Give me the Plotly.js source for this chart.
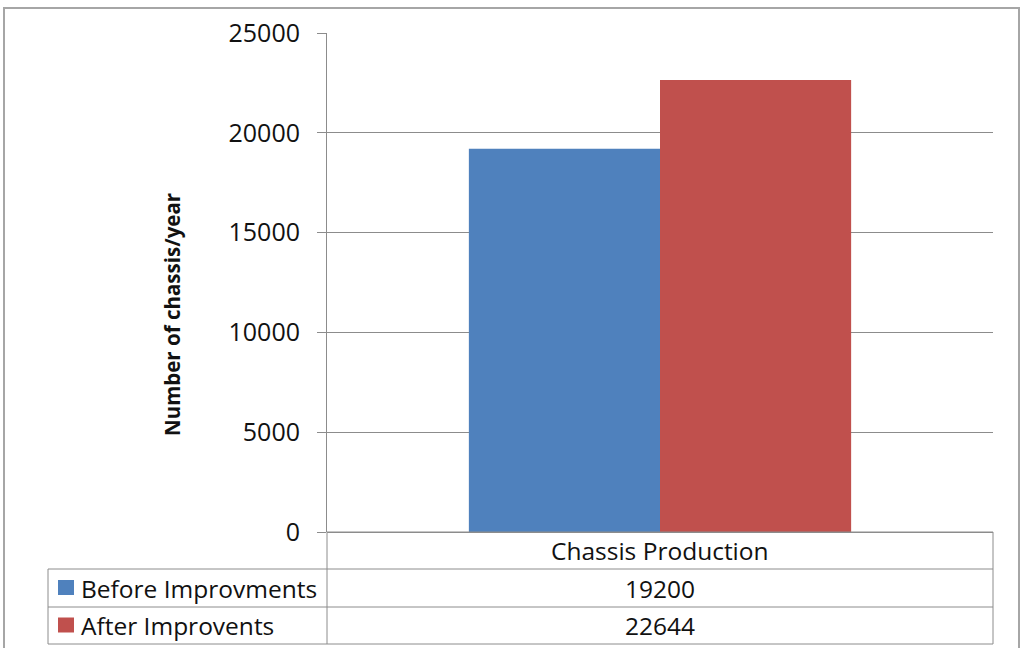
<!DOCTYPE html>
<html>
<head>
<meta charset="utf-8">
<script src="https://cdn.plot.ly/plotly-3.0.1.min.js"></script>
<style>html,body{margin:0;padding:0;background:#fff;}#chart{width:1020px;height:648px;}</style>
</head>
<body>
<div id="chart"></div>
<script>
const categories = ["Chassis Production"];
const seriesNames = ["Before Improvments", "After Improvents"];
const beforeValues = [19200];
const afterValues = [22644];
const seriesColors = ["#4F81BD", "#C0504D"];
const yTitle = "Number of chassis/year";

const W = 1020, H = 648;
const L = 327, R = 27, T = 33, B = 116;
const pw = W - L - R, ph = H - T - B;
const px = v => (v - L) / pw;
const py = v => (H - B - v) / ph;

const FONT = "'Open Sans', Lato, sans-serif";
const TXT = "#111111";
const GRID = "#8c8c8c";

const traces = [
  {type: "bar", name: seriesNames[0], x: categories, y: beforeValues, marker: {color: seriesColors[0]}, hoverinfo: "none"},
  {type: "bar", name: seriesNames[1], x: categories, y: afterValues, marker: {color: seriesColors[1]}, hoverinfo: "none"}
];

const shapes = [];
const line = (x0, y0, x1, y1, color, w) => shapes.push({type: "line", xref: "paper", yref: "paper",
  x0: px(x0), y0: py(y0), x1: px(x1), y1: py(y1), line: {color: color || GRID, width: w || 1}});

// outer chart border
shapes.push({type: "rect", xref: "paper", yref: "paper", x0: px(4), y0: py(8), x1: px(1019), y1: py(700),
  line: {color: "#a6a6a6", width: 2}, fillcolor: "rgba(0,0,0,0)"});

// data table grid
const rowTops = [532, 569, 607, 644];
const colL = 48, colM = 327, colR = 993;
line(colM, 532, colR, 532);
line(colL, rowTops[1], colR, rowTops[1]);
line(colL, rowTops[2], colR, rowTops[2]);
line(colL, rowTops[3], colR, rowTops[3]);
line(colM, 532, colM, rowTops[3]);
line(colR, 532, colR, rowTops[3]);
line(colL, rowTops[1], colL, rowTops[3]);

const allValues = [beforeValues, afterValues];
const annotations = [];
const TABLE_SIZE = 24.5;
const rowMid = i => (rowTops[i] + rowTops[i + 1]) / 2;
annotations.push({xref: "paper", yref: "paper", x: px((colM + colR) / 2), y: py(rowMid(0)),
  text: categories[0], showarrow: false, xanchor: "center", yanchor: "middle", font: {family: FONT, size: TABLE_SIZE, color: TXT}});
seriesNames.forEach((nm, i) => {
  const mid = rowMid(i + 1);
  shapes.push({type: "rect", xref: "paper", yref: "paper", x0: px(58), x1: px(74), y0: py(mid - 8), y1: py(mid + 7),
    line: {width: 0}, fillcolor: seriesColors[i]});
  annotations.push({xref: "paper", yref: "paper", x: px(79), y: py(mid), text: nm, showarrow: false,
    xanchor: "left", yanchor: "middle", font: {family: FONT, size: TABLE_SIZE, color: TXT}});
  annotations.push({xref: "paper", yref: "paper", x: px((colM + colR) / 2), y: py(mid), text: String(allValues[i][0]),
    showarrow: false, xanchor: "center", yanchor: "middle", font: {family: FONT, size: TABLE_SIZE, color: TXT}});
});

// y-axis title (placed as in the reference, below the plot-area centre)
annotations.push({xref: "paper", yref: "paper", x: px(172), y: py(315), text: "<b>" + yTitle + "</b>",
  textangle: -90, showarrow: false, xanchor: "center", yanchor: "middle", font: {family: FONT, size: 20.5, color: TXT}});

const layout = {
  width: W, height: H,
  margin: {l: L, r: R, t: T, b: B, pad: 0},
  paper_bgcolor: "#fff", plot_bgcolor: "#fff",
  showlegend: false,
  barmode: "group", bargap: 0.426, bargroupgap: 0,
  font: {family: FONT, color: TXT},
  xaxis: {showticklabels: false, showgrid: false, zeroline: false, showline: false, ticks: "", fixedrange: true},
  yaxis: {
    range: [0, 25000], dtick: 5000, tick0: 0, tickformat: "d",
    showgrid: true, gridcolor: GRID, gridwidth: 1,
    zeroline: true, zerolinecolor: GRID, zerolinewidth: 1,
    showline: true, linecolor: GRID, linewidth: 1,
    ticks: "outside", ticklen: 9, tickcolor: GRID, tickwidth: 1,
    ticklabelstandoff: 12,
    tickfont: {family: FONT, size: 25, color: TXT},
    automargin: false, fixedrange: true
  },
  shapes: shapes,
  annotations: annotations
};

Plotly.newPlot("chart", traces, layout, {staticPlot: true, displayModeBar: false});
</script>
</body>
</html>
